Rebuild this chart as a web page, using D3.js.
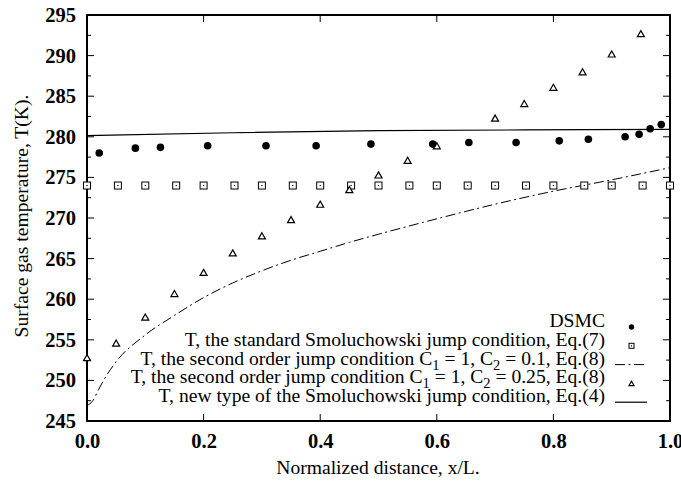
<!DOCTYPE html>
<html>
<head>
<meta charset="utf-8">
<script src="https://cdn.jsdelivr.net/npm/d3@7"></script>
<style>
  body { margin: 0; background: #fff; }
  svg { display: block; }
</style>
</head>
<body>
<div id="chart"></div>
<script>
// DSMC results (filled circles)
const dsmcX = [0.021, 0.083, 0.126, 0.207, 0.307, 0.393, 0.487, 0.593, 0.655, 0.736, 0.81, 0.86, 0.923, 0.947, 0.966, 0.985]
const dsmcT = [278.0, 278.6, 278.7, 278.9, 278.9, 278.9, 279.1, 279.1, 279.3, 279.3, 279.5, 279.7, 280.0, 280.3, 281.0, 281.5]

// standard Smoluchowski, Eq.(7) (squares)
const stdX = [0, 0.053, 0.1, 0.153, 0.2, 0.253, 0.3, 0.353, 0.4, 0.453, 0.5, 0.553, 0.6, 0.653, 0.7, 0.753, 0.8, 0.853, 0.9, 0.953, 1.0]
const stdT = [274.0, 274.0, 274.0, 274.0, 274.0, 274.0, 274.0, 274.0, 274.0, 274.0, 274.0, 274.0, 274.0, 274.0, 274.0, 274.0, 274.0, 274.0, 274.0, 274.0, 274.0]

// second order, C2 = 0.1 (dash-dot line)
const so1X = [0, 0.01, 0.02, 0.03, 0.05, 0.1, 0.15, 0.2, 0.25, 0.3, 0.35, 0.4, 0.45, 0.5, 0.6, 0.7, 0.8, 0.9, 1.0]
const so1T = [246.9, 247.5, 248.9, 250.2, 252.3, 255.6, 258.0, 260.2, 262.0, 263.5, 264.8, 265.9, 267.0, 268.0, 269.9, 271.7, 273.3, 274.7, 276.2]

// second order, C2 = 0.25 (triangles)
const so2X = [0, 0.05, 0.1, 0.15, 0.2, 0.25, 0.3, 0.35, 0.4, 0.45, 0.5, 0.55, 0.6, 0.7, 0.75, 0.8, 0.85, 0.9, 0.95]
const so2T = [252.8, 254.6, 257.8, 260.7, 263.3, 265.7, 267.8, 269.8, 271.7, 273.5, 275.3, 277.1, 278.9, 282.3, 284.1, 286.1, 288.0, 290.2, 292.7]

// new type Smoluchowski, Eq.(4) (solid line)
const newX = [0, 0.25, 0.5, 0.75, 1.0]
const newT = [280.15, 280.5, 280.75, 280.85, 280.92]

const xTicks = [0, 0.2, 0.4, 0.6, 0.8, 1.0]
const yTicks = [245, 250, 255, 260, 265, 270, 275, 280, 285, 290, 295]

const legendLabels = [
  'DSMC',
  'T, the standard Smoluchowski jump condition, Eq.(7)',
  'T, the second order jump condition C|1| = 1, C|2| = 0.1, Eq.(8)',
  'T, the second order jump condition C|1| = 1, C|2| = 0.25, Eq.(8)',
  'T, new type of the Smoluchowski jump condition, Eq.(4)'
]

const FONT = '"Liberation Serif", "Times New Roman", Times, "DejaVu Serif", serif'

const width = 681
const height = 482
const margin = { top: 15, right: 11, bottom: 61, left: 87 }

const svg = d3.select('#chart').append('svg').attr('width', width).attr('height', height)
  .style('font-family', FONT)

const x = d3.scaleLinear().domain([0, 1]).range([margin.left, width - margin.right])
const y = d3.scaleLinear().domain([245, 295]).range([height - margin.bottom, margin.top])

const minorY = d3.range(245, 295.01, 2.5)

// ticks, all inward, mirrored
const tickG = svg.append('g').attr('stroke', '#000').attr('stroke-width', 1)
minorY.forEach(function(v) {
  const len = (v % 5 === 0) ? 7 : 4
  tickG.append('line').attr('x1', x(0)).attr('x2', x(0) + len).attr('y1', y(v)).attr('y2', y(v))
  tickG.append('line').attr('x1', x(1)).attr('x2', x(1) - len).attr('y1', y(v)).attr('y2', y(v))
})
xTicks.forEach(function(v) {
  tickG.append('line').attr('x1', x(v)).attr('x2', x(v)).attr('y1', y(245)).attr('y2', y(245) - 7)
  tickG.append('line').attr('x1', x(v)).attr('x2', x(v)).attr('y1', y(295)).attr('y2', y(295) + 7)
})

// tick labels through d3 axes (axis lines removed)
const xAxis = svg.append('g')
  .attr('transform', 'translate(0,' + y(245) + ')')
  .call(d3.axisBottom(x).tickValues(xTicks).tickFormat(d3.format('.1f')).tickSize(0).tickPadding(12))
const yAxis = svg.append('g')
  .attr('transform', 'translate(' + x(0) + ',0)')
  .call(d3.axisLeft(y).tickValues(yTicks).tickSize(0).tickPadding(11))
;[xAxis, yAxis].forEach(function(a) {
  a.attr('font-family', null).attr('font-size', null)
  a.select('.domain').remove()
  a.selectAll('text').attr('font-size', 20.5).attr('font-weight', 'bold')
    .attr('font-family', FONT).attr('fill', '#000')
})

// frame
svg.append('rect')
  .attr('x', x(0)).attr('y', y(295))
  .attr('width', x(1) - x(0)).attr('height', y(245) - y(295))
  .attr('fill', 'none').attr('stroke', '#000').attr('stroke-width', 2)

// solid line
const lineFn = d3.line().x(function(d) { return x(d[0]) }).y(function(d) { return y(d[1]) }).curve(d3.curveMonotoneX)
svg.append('path')
  .attr('d', lineFn(newX.map(function(v, i) { return [v, newT[i]] })))
  .attr('fill', 'none').attr('stroke', '#000').attr('stroke-width', 1.2)

// dash-dot line
svg.append('path')
  .attr('d', lineFn(so1X.map(function(v, i) { return [v, so1T[i]] })))
  .attr('fill', 'none').attr('stroke', '#000').attr('stroke-width', 1)
  .attr('stroke-dasharray', '10,3.5,2,3.5')

function square(g, cx, cy, s) {
  g.append('rect').attr('x', cx - s / 2).attr('y', cy - s / 2).attr('width', s).attr('height', s)
    .attr('fill', '#fff').attr('stroke', '#000').attr('stroke-width', 1)
  g.append('rect').attr('x', cx - 0.6).attr('y', cy - 0.6).attr('width', 1.2).attr('height', 1.2).attr('fill', '#000')
}
function triangle(g, cx, cy, s) {
  const h = s * 0.87
  g.append('path')
    .attr('d', 'M' + cx + ',' + (cy - h / 2) + 'L' + (cx + s / 2) + ',' + (cy + h / 2) + 'L' + (cx - s / 2) + ',' + (cy + h / 2) + 'Z')
    .attr('fill', '#fff').attr('stroke', '#000').attr('stroke-width', 1.2)
}
const sqG = svg.append('g')
stdX.forEach(function(v, i) { square(sqG, x(v), y(stdT[i]), 7) })

const triG = svg.append('g')
so2X.forEach(function(v, i) { triangle(triG, x(v), y(so2T[i]), 7) })

svg.append('g').selectAll('circle')
  .data(dsmcX)
  .enter()
  .append('circle')
  .attr('cx', function(d) { return x(d) })
  .attr('cy', function(d, i) { return y(dsmcT[i]) })
  .attr('r', 3.8)
  .attr('fill', '#000')

// legend
const legX = 605
const legY0 = 327
const legStep = 18.8
const legG = svg.append('g')
legendLabels.forEach(function(lab, i) {
  const ty = legY0 + i * legStep
  const t = legG.append('text').attr('x', legX).attr('y', ty).attr('dy', '0.33em')
    .attr('text-anchor', 'end').attr('font-size', 19.6).attr('font-family', FONT)
  lab.split('|').forEach(function(part, j) {
    if (j % 2 === 1) {
      t.append('tspan').attr('dy', 5).attr('font-size', 14.5).text(part)
    } else {
      t.append('tspan').attr('dy', j > 0 ? -5 : 0).text(part)
    }
  })
  const mx = 631.5
  if (i === 0) legG.append('circle').attr('cx', mx).attr('cy', ty).attr('r', 2.7).attr('fill', '#000')
  if (i === 1) square(legG, mx, ty, 5)
  if (i === 2) legG.append('line').attr('x1', 615).attr('x2', 647).attr('y1', ty).attr('y2', ty)
    .attr('stroke', '#000').attr('stroke-width', 1).attr('stroke-dasharray', '10,3.5,2,3.5')
  if (i === 3) triangle(legG, mx, ty, 5)
  if (i === 4) legG.append('line').attr('x1', 615).attr('x2', 647).attr('y1', ty).attr('y2', ty)
    .attr('stroke', '#000').attr('stroke-width', 1.2)
})

// axis titles
svg.append('text')
  .attr('x', 378).attr('y', 474)
  .attr('text-anchor', 'middle').attr('font-size', 19.6).attr('font-family', FONT)
  .text('Normalized distance, x/L.')
svg.append('text')
  .attr('transform', 'translate(28,216) rotate(-90)')
  .attr('text-anchor', 'middle').attr('font-size', 19.6).attr('font-family', FONT)
  .text('Surface gas temperature, T(K).')
</script>
</body>
</html>
